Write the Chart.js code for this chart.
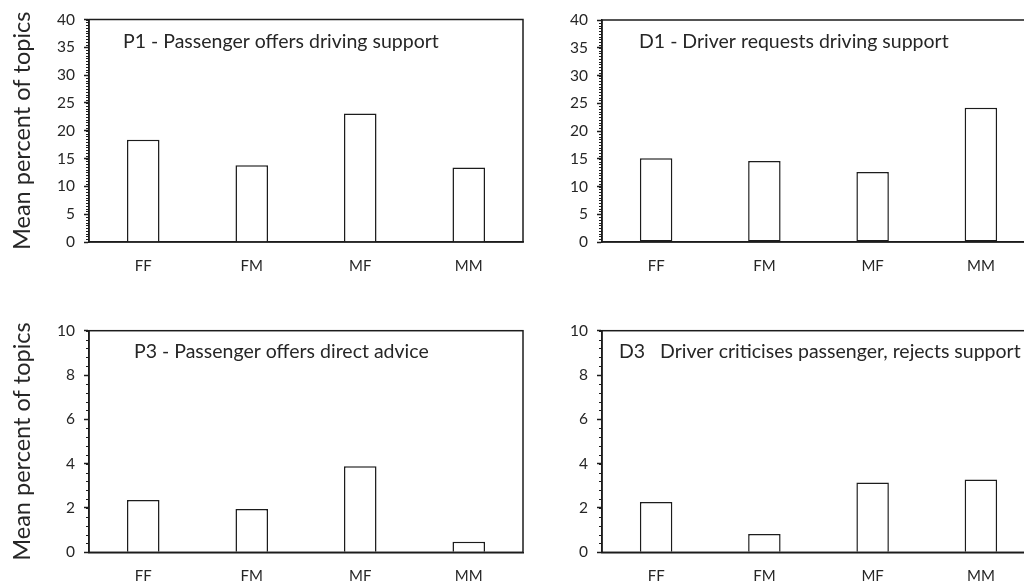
<!DOCTYPE html>
<html>
<head>
<meta charset="utf-8">
<script src="https://cdn.jsdelivr.net/npm/chart.js@4.4.1/dist/chart.umd.min.js"></script>
<style>
  html, body { margin: 0; padding: 0; width: 1024px; height: 583px; overflow: hidden; background: #ffffff; }
  .panel { position: absolute; }
</style>
</head>
<body>
<div class="panel" style="left:0px;top:0px;"><canvas id="c1" width="530" height="290"></canvas></div>
<div class="panel" style="left:512px;top:0px;"><canvas id="c2" width="540" height="290"></canvas></div>
<div class="panel" style="left:0px;top:290px;"><canvas id="c3" width="530" height="320"></canvas></div>
<div class="panel" style="left:512px;top:290px;"><canvas id="c4" width="540" height="320"></canvas></div>
<script>
// ---- data ----
const categories = ['FF', 'FM', 'MF', 'MM'];
const p1Values = [18.4, 13.8, 23.1, 13.4];
const d1Values = [15.1, 14.6, 12.6, 24.2];
const p3Values = [2.36, 1.95, 3.88, 0.48];
const d3Values = [2.27, 0.83, 3.15, 3.29];
const panelTitles = [
  'P1 - Passenger offers driving support',
  'D1 - Driver requests driving support',
  'P3 - Passenger offers direct advice',
  'D3   Driver criticises passenger, rejects support'
];
const yAxisTitle = 'Mean percent of topics';
const topScale = { max: 40, step: 5, minor: 0.5 };
const bottomScale = { max: 10, step: 2, minor: 0.4 };

// ---- style ----
const FONT = 'Lato, "Open Sans", sans-serif';
const LINE = '#1c1c1c';
const TEXT = '#262626';

const panelPlugin = {
  id: 'panel',
  afterDraw(chart, args, opts) {
    const { ctx, chartArea: a, scales: { y } } = chart;
    ctx.save();
    // frame
    ctx.strokeStyle = LINE;
    ctx.lineWidth = 1.5;
    ctx.strokeRect(a.left, a.top, a.right - a.left, a.bottom - a.top);
    // minor ticks
    ctx.lineWidth = 1;
    const n = Math.round((y.max - y.min) / opts.minor);
    for (let i = 0; i <= n; i++) {
      const v = y.min + i * opts.minor;
      const py = Math.round(y.getPixelForValue(v)) + 0.5;
      ctx.beginPath();
      ctx.moveTo(a.left - 3, py);
      ctx.lineTo(a.left, py);
      ctx.stroke();
    }
    // panel title
    ctx.fillStyle = TEXT;
    ctx.font = opts.titleSize + 'px ' + FONT;
    ctx.textBaseline = 'middle';
    ctx.textAlign = 'left';
    ctx.fillText(opts.title, a.left + opts.dx, a.top + opts.dy);
    ctx.restore();
  }
};

function makePanel(id, values, title, scaleDef, geo, showYTitle) {
  const ctx = document.getElementById(id);
  return new Chart(ctx, {
    type: 'bar',
    data: {
      labels: categories,
      datasets: [{
        data: values,
        backgroundColor: '#ffffff',
        borderColor: LINE,
        borderWidth: 1.5,
        borderSkipped: geo.skip,
        categoryPercentage: 1.0,
        barPercentage: 0.3
      }]
    },
    options: {
      responsive: false,
      animation: false,
      events: [],
      layout: { padding: { left: 0, right: geo.padRight, top: geo.top, bottom: 0 } },
      plugins: {
        legend: { display: false },
        tooltip: { enabled: false },
        title: { display: false },
        panel: { title: title, dx: geo.dx, dy: geo.dy, titleSize: geo.titleSize, minor: scaleDef.minor }
      },
      scales: {
        x: {
          grid: { display: false, drawTicks: false },
          border: { display: true, color: LINE, width: 1.5 },
          ticks: { color: TEXT, font: { family: FONT, size: 15 }, padding: geo.xPad },
          afterFit: (s) => { s.height = geo.xHeight; }
        },
        y: {
          min: 0,
          max: scaleDef.max,
          grid: { display: true, drawOnChartArea: false, drawTicks: true, tickLength: 5, tickColor: LINE, tickWidth: 1.5 },
          border: { display: true, color: LINE, width: 1.5 },
          ticks: { stepSize: scaleDef.step, color: TEXT, font: { family: FONT, size: 15.5 }, padding: 9 },
          title: {
            display: showYTitle,
            text: yAxisTitle,
            color: TEXT,
            font: { family: FONT, size: 23.5 },
            padding: { top: 8, bottom: 0 }
          },
          afterFit: (s) => { s.width = geo.yWidth; }
        }
      }
    },
    plugins: [panelPlugin]
  });
}

makePanel('c1', p1Values, panelTitles[0], topScale,
  { padRight: 7, top: 19.5, xHeight: 48, xPad: 15, yWidth: 89, dx: 34, dy: 22.5, titleSize: 19.5, skip: 'start' }, true);
makePanel('c2', d1Values, panelTitles[1], topScale,
  { padRight: 17, top: 20, xHeight: 48, xPad: 15, yWidth: 90, dx: 37, dy: 22, titleSize: 19.5, skip: false }, false);
makePanel('c3', p3Values, panelTitles[2], bottomScale,
  { padRight: 7, top: 40.7, xHeight: 57.7, xPad: 15, yWidth: 89, dx: 45, dy: 21.5, titleSize: 19.5, skip: 'start' }, true);
makePanel('c4', d3Values, panelTitles[3], bottomScale,
  { padRight: 17, top: 40.7, xHeight: 57.7, xPad: 15, yWidth: 90, dx: 17, dy: 21.5, titleSize: 19.5, skip: 'start' }, false);
</script>
</body>
</html>
